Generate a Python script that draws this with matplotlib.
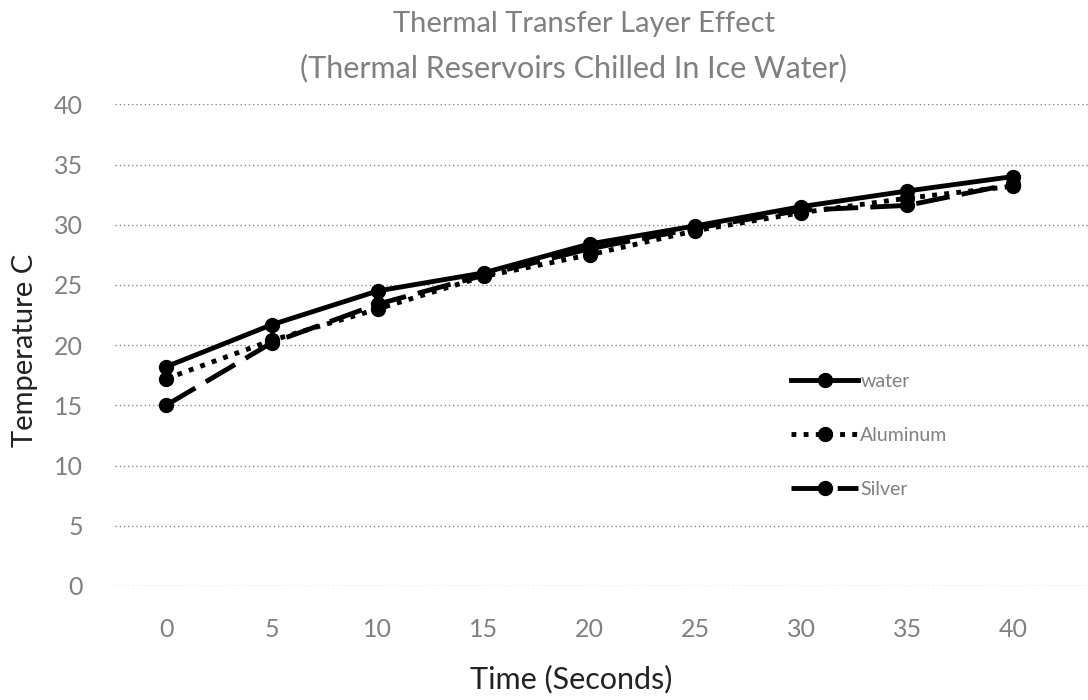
import matplotlib
matplotlib.use("Agg")
import matplotlib.pyplot as plt

time_s = [0, 5, 10, 15, 20, 25, 30, 35, 40]
water = [18.2, 21.7, 24.5, 26.0, 28.4, 29.9, 31.5, 32.8, 34.0]
aluminum = [17.2, 20.4, 23.0, 25.7, 27.5, 29.5, 31.0, 32.2, 33.2]
silver = [15.0, 20.2, 23.4, 25.8, 28.0, 29.7, 31.2, 31.6, 33.4]
yticks = [0, 5, 10, 15, 20, 25, 30, 35, 40]

plt.rcParams['font.family'] = ['Lato', 'DejaVu Sans']

fig = plt.figure(figsize=(10.88, 7.0), dpi=100)
ax = fig.add_axes([115 / 1088, 0.163, 1 - 115 / 1088, 0.688])

ax.plot(time_s, water, color='black', lw=3.5, ls='-', marker='o', ms=10, label='water', zorder=3)
ax.plot(time_s, aluminum, color='black', lw=3.5, ls=(0, (1, 1.5)), marker='o', ms=10, label='Aluminum', zorder=3)
ax.plot(time_s, silver, color='black', lw=3.5, ls=(0, (7, 2.5)), marker='o', ms=10, label='Silver', zorder=3)

ax.set_ylim(0, 40)
ax.set_xlim(-2.41, 43.54)
ax.set_yticks(yticks)
ax.set_xticks(time_s)
ax.yaxis.grid(True, ls=(0, (1, 2)), color='#888888', lw=1)
ax.xaxis.grid(False)
for s in ax.spines.values():
    s.set_visible(False)
ax.tick_params(length=0, labelsize=18, labelcolor='#808080')
ax.tick_params(axis='y', pad=23)
ax.tick_params(axis='x', pad=23)

fig.text(0.023, 0.50, 'Temperature C', rotation=90, ha='center', va='center', fontsize=21, color='#222222')
fig.text(0.525, 1 - 679 / 700, 'Time (Seconds)', ha='center', va='center', fontsize=22, color='#222222')
fig.text(0.537, 1 - 24 / 700, 'Thermal Transfer Layer Effect', ha='center', va='center', fontsize=21, color='#808080')
fig.text(0.527, 1 - 68 / 700, '(Thermal Reservoirs Chilled In Ice Water)', ha='center', va='center', fontsize=22, color='#808080')

leg = ax.legend(loc='upper left', bbox_to_anchor=(0.677, 0.479), frameon=False, fontsize=14,
                labelcolor='#808080', handlelength=3.45, labelspacing=1.9, handletextpad=0.1)

fig.savefig('out.png', dpi=100)
